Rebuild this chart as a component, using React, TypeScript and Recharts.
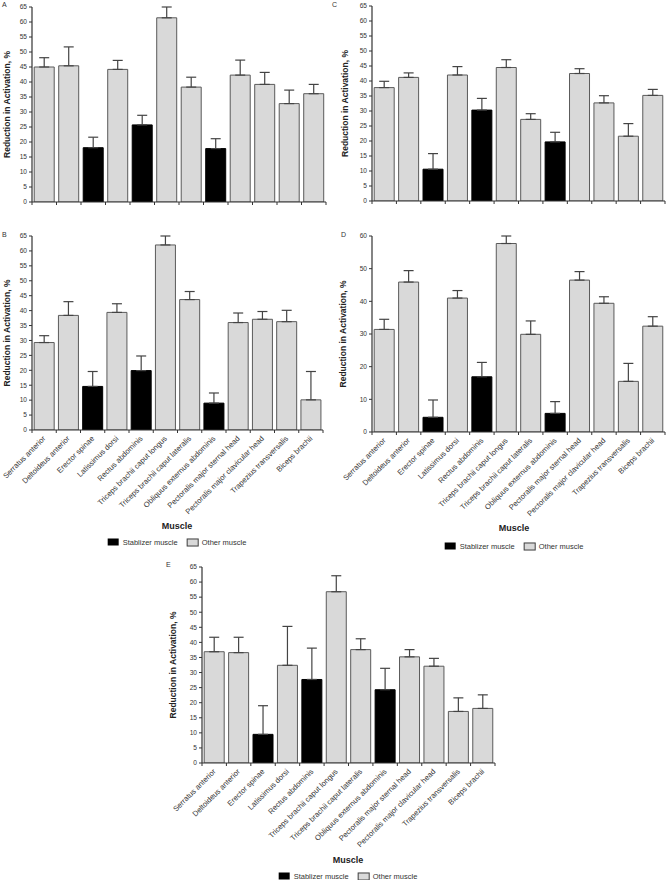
import React from "react";
import { BarChart, Bar, XAxis, YAxis, ErrorBar, Cell } from "recharts";

const muscles = [
  "Serratus anterior",
  "Deltoideus anterior",
  "Erector spinae",
  "Latissimus dorsi",
  "Rectus abdominis",
  "Triceps brachii caput longus",
  "Triceps brachii caput lateralis",
  "Obliquus externus abdominis",
  "Pectoralis major sternal head",
  "Pectoralis major clavicular head",
  "Trapezius transversalis",
  "Biceps brachii",
];

const stabilizers = ["Erector spinae", "Rectus abdominis", "Obliquus externus abdominis"];

const meanA = [45.0, 45.4, 18.1, 44.2, 25.7, 61.4, 38.3, 17.8, 42.3, 39.2, 32.8, 36.1];
const sdA = [3.1, 6.3, 3.5, 3.0, 3.2, 3.6, 3.3, 3.3, 5.0, 4.0, 4.5, 3.1];

const meanB = [29.3, 38.4, 14.6, 39.4, 19.9, 62.0, 43.7, 9.0, 36.0, 37.1, 36.3, 10.1];
const sdB = [2.3, 4.6, 5.0, 2.9, 4.9, 3.0, 2.7, 3.4, 3.2, 2.6, 3.8, 9.5];

const meanC = [37.8, 41.2, 10.6, 42.0, 30.3, 44.5, 27.2, 19.7, 42.5, 32.7, 21.6, 35.2];
const sdC = [2.1, 1.5, 5.2, 2.8, 3.9, 2.6, 1.9, 3.2, 1.6, 2.4, 4.2, 2.0];

const meanD = [31.4, 45.9, 4.5, 41.0, 16.9, 57.7, 29.9, 5.7, 46.5, 39.4, 15.5, 32.4];
const sdD = [3.1, 3.5, 5.3, 2.3, 4.4, 2.3, 4.1, 3.6, 2.6, 2.0, 5.5, 2.9];

const meanE = [36.9, 36.6, 9.5, 32.4, 27.7, 56.8, 37.6, 24.3, 35.2, 32.1, 17.1, 18.1];
const sdE = [4.8, 5.1, 9.5, 12.9, 10.4, 5.3, 3.6, 7.1, 2.4, 2.6, 4.5, 4.5];

const ticks65 = [0, 5, 10, 15, 20, 25, 30, 35, 40, 45, 50, 55, 60, 65];
const ticks60 = [0, 10, 20, 30, 40, 50, 60];

const AXIS = "#333";
const FONT = "'Liberation Sans', Arial, sans-serif";

function MuscleTick(props: any) {
  const { x, y, payload, index, band, labels } = props;
  const half = band / 2;
  return (
    <g>
      {index === 0 && (
        <line x1={x - half} x2={x - half} y1={y} y2={y + 3} stroke={AXIS} />
      )}
      <line x1={x + half} x2={x + half} y1={y} y2={y + 3} stroke={AXIS} />
      {labels && (
        <text
          x={x + 2}
          y={y + 9}
          textAnchor="end"
          transform={`rotate(-45 ${x + 2} ${y + 9})`}
          fontSize={7.6}
          fill="#333"
        >
          {payload.value}
        </text>
      )}
    </g>
  );
}

type PanelProps = {
  mean: number[];
  sd: number[];
  yTicks: number[];
  left: number;
  top: number;
  width: number;
  height: number;
  margin: { top: number; right: number; bottom: number; left: number };
  yAxisWidth: number;
  xAxisHeight: number;
  titleX: number;
  labels: boolean;
};

function Panel(p: PanelProps) {
  const rows = muscles.map((m, i) => ({
    muscle: m,
    value: p.mean[i],
    err: [0, p.sd[i]],
  }));
  const band = (p.width - p.margin.left - p.margin.right - p.yAxisWidth) / muscles.length;
  const yMax = p.yTicks[p.yTicks.length - 1];
  return (
    <div style={{ position: "absolute", left: p.left, top: p.top }}>
      <BarChart width={p.width} height={p.height} data={rows} margin={p.margin} barCategoryGap="9%">
        <XAxis
          dataKey="muscle"
          interval={0}
          height={p.xAxisHeight}
          tickSize={0}
          tickMargin={0}
          tickLine={false}
          axisLine={{ stroke: AXIS, strokeWidth: 1.2 }}
          tick={(t: any) => <MuscleTick {...t} band={band} labels={p.labels} />}
        />
        <YAxis
          type="number"
          domain={[0, yMax]}
          ticks={p.yTicks}
          interval={0}
          allowDataOverflow
          width={p.yAxisWidth}
          tickSize={3}
          tickMargin={2}
          tick={{ fontSize: 6.6, fill: "#333" }}
          tickLine={{ stroke: AXIS }}
          axisLine={{ stroke: AXIS, strokeWidth: 1.2 }}
          label={{
            value: "Reduction in Activation, %",
            angle: -90,
            position: "insideLeft",
            offset: p.titleX,
            style: { textAnchor: "middle", fontWeight: "bold", fontSize: 8.5, fill: "#222" },
          }}
        />
        <Bar dataKey="value" isAnimationActive={false} strokeWidth={1}>
          {rows.map((r) => {
            const stab = stabilizers.includes(r.muscle);
            return (
              <Cell
                key={r.muscle}
                fill={stab ? "#000" : "#d9d9d9"}
                stroke={stab ? "#000" : "#5a5a5a"}
              />
            );
          })}
          <ErrorBar dataKey="err" width={5} stroke="#444" strokeWidth={1.2} direction="y" />
        </Bar>
      </BarChart>
    </div>
  );
}

function Footer({ cx, muscleY, legendY }: { cx: number; muscleY: number; legendY: number }) {
  return (
    <>
      <div
        style={{
          position: "absolute",
          left: cx,
          top: muscleY,
          transform: "translate(-50%, -50%)",
          fontWeight: "bold",
          fontSize: 9,
          color: "#222",
          whiteSpace: "nowrap",
        }}
      >
        Muscle
      </div>
      <div
        style={{
          position: "absolute",
          left: cx,
          top: legendY,
          transform: "translate(-50%, -50%)",
          display: "flex",
          alignItems: "center",
          fontSize: 7.5,
          color: "#333",
          whiteSpace: "nowrap",
        }}
      >
        <span style={{ width: 11, height: 7, background: "#000", marginRight: 4 }} />
        <span style={{ marginRight: 9 }}>Stablizer muscle</span>
        <span
          style={{
            width: 10,
            height: 6,
            background: "#d9d9d9",
            border: "0.8px solid #444",
            marginRight: 3,
          }}
        />
        <span>Other muscle</span>
      </div>
    </>
  );
}

const letterStyle = (left: number, top: number): React.CSSProperties => ({
  position: "absolute",
  left,
  top,
  fontSize: 7,
  color: "#333",
});

export default function App() {
  return (
    <div
      style={{
        position: "absolute",
        left: 0,
        top: 0,
        width: 667,
        height: 880,
        background: "#fff",
        fontFamily: FONT,
        overflow: "hidden",
      }}
    >
      <div style={letterStyle(2, 1)}>A</div>
      <Panel
        mean={meanA}
        sd={sdA}
        yTicks={ticks65}
        left={0}
        top={0}
        width={330}
        height={210}
        margin={{ top: 7, right: 4, bottom: 0, left: 0 }}
        yAxisWidth={32}
        xAxisHeight={8}
        titleX={7}
        labels={false}
      />

      <div style={letterStyle(332, 1)}>C</div>
      <Panel
        mean={meanC}
        sd={sdC}
        yTicks={ticks65}
        left={330}
        top={0}
        width={337}
        height={209}
        margin={{ top: 6, right: 2, bottom: 0, left: 0 }}
        yAxisWidth={42}
        xAxisHeight={8}
        titleX={15}
        labels={false}
      />

      <div style={letterStyle(2, 231)}>B</div>
      <Panel
        mean={meanB}
        sd={sdB}
        yTicks={ticks65}
        left={0}
        top={220}
        width={330}
        height={295}
        margin={{ top: 16, right: 7, bottom: 0, left: 0 }}
        yAxisWidth={32}
        xAxisHeight={85}
        titleX={7}
        labels={true}
      />
      <Footer cx={177} muscleY={526} legendY={542} />

      <div style={letterStyle(341, 231)}>D</div>
      <Panel
        mean={meanD}
        sd={sdD}
        yTicks={ticks60}
        left={330}
        top={220}
        width={337}
        height={297}
        margin={{ top: 16, right: 2, bottom: 0, left: 0 }}
        yAxisWidth={42}
        xAxisHeight={85}
        titleX={13}
        labels={true}
      />
      <Footer cx={514} muscleY={528} legendY={546} />

      <div style={letterStyle(166, 561)}>E</div>
      <Panel
        mean={meanE}
        sd={sdE}
        yTicks={ticks65}
        left={150}
        top={550}
        width={360}
        height={298}
        margin={{ top: 17, right: 15, bottom: 0, left: 0 }}
        yAxisWidth={52}
        xAxisHeight={85}
        titleX={23}
        labels={true}
      />
      <Footer cx={348} muscleY={860} legendY={876} />
    </div>
  );
}
